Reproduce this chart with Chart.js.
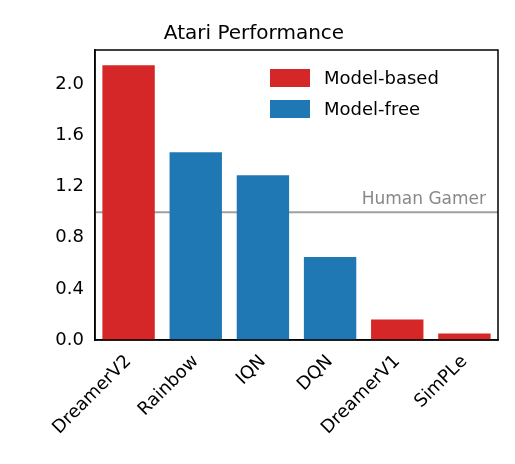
<!DOCTYPE html>
<html>
<head>
<script src="https://cdn.jsdelivr.net/npm/chart.js@4"></script>
<style>body{margin:0;background:#fff}#wrap{width:515px;height:464px}</style>
</head>
<body>
<div id="wrap"><canvas id="c"></canvas></div>
<script>
const agents = ['DreamerV2', 'Rainbow', 'IQN', 'DQN', 'DreamerV1', 'SimPLe'];
const modelBased = [2.15, null, null, null, 0.16, 0.05];
const modelFree = [null, 1.47, 1.29, 0.65, null, null];
const yTicks = [0.0, 0.4, 0.8, 1.2, 1.6, 2.0];
const humanScore = 1.0;

const humanLine = {
    id: 'humanLine',
    beforeDatasetsDraw(chart) {
        const {ctx, chartArea, scales} = chart;
        const y = scales.y.getPixelForValue(humanScore);
        ctx.save();
        ctx.strokeStyle = '#a0a0a0';
        ctx.lineWidth = 2;
        ctx.beginPath();
        ctx.moveTo(chartArea.left, y);
        ctx.lineTo(chartArea.right, y);
        ctx.stroke();
        ctx.fillStyle = '#888';
        ctx.font = '17px "DejaVu Sans"';
        ctx.textAlign = 'right';
        ctx.textBaseline = 'bottom';
        ctx.fillText('Human Gamer', chartArea.right - 12, y - 4);
        ctx.restore();
    }
};

const frameAndLegend = {
    id: 'frameAndLegend',
    afterDraw(chart) {
        const {ctx, chartArea} = chart;
        ctx.save();
        ctx.strokeStyle = '#000';
        ctx.lineWidth = 1.5;
        ctx.strokeRect(chartArea.left, chartArea.top, chartArea.right - chartArea.left, chartArea.bottom - chartArea.top);
        ctx.font = '18px "DejaVu Sans"';
        ctx.textBaseline = 'middle';
        chart.data.datasets.forEach((ds, i) => {
            const y = chartArea.top + 28 + i * 31;
            const x = chartArea.right - 228;
            ctx.fillStyle = ds.backgroundColor;
            ctx.fillRect(x, y - 9, 40, 18);
            ctx.fillStyle = '#000';
            ctx.fillText(ds.label, x + 54, y + 1);
        });
        ctx.restore();
    }
};

new Chart(document.getElementById('c'), {
    type: 'bar',
    data: {
        labels: agents,
        datasets: [
            {label: 'Model-based', data: modelBased, backgroundColor: '#d62728'},
            {label: 'Model-free', data: modelFree, backgroundColor: '#1f77b4'}
        ]
    },
    plugins: [humanLine, frameAndLegend],
    options: {
        responsive: true,
        maintainAspectRatio: false,
        animation: false,
        layout: {padding: {left: 10, right: 17, top: 22, bottom: 0}},
        plugins: {
            title: {display: true, text: 'Atari Performance', color: '#000',
                font: {family: 'DejaVu Sans', size: 20, weight: 'normal'}, padding: {top: 0, bottom: 4}},
            legend: {display: false},
            tooltip: {enabled: false}
        },
        scales: {
            x: {
                grid: {display: false},
                border: {color: '#000', width: 1.5},
                afterFit(axis) { axis.height = 124; },
                ticks: {color: '#000', maxRotation: 45, minRotation: 45,
                    font: {family: 'DejaVu Sans', size: 18}}
            },
            y: {
                min: 0, max: 2.27,
                afterBuildTicks(axis) { axis.ticks = yTicks.map(v => ({value: v})); },
                afterFit(axis) { axis.width = 85; },
                grid: {display: false},
                border: {color: '#000', width: 1.5},
                ticks: {color: '#000', font: {family: 'DejaVu Sans', size: 18},
                    callback: v => v.toFixed(1)}
            }
        },
        datasets: {bar: {categoryPercentage: 1.0, barPercentage: 0.78, skipNull: true}}
    }
});
</script>
</body>
</html>
